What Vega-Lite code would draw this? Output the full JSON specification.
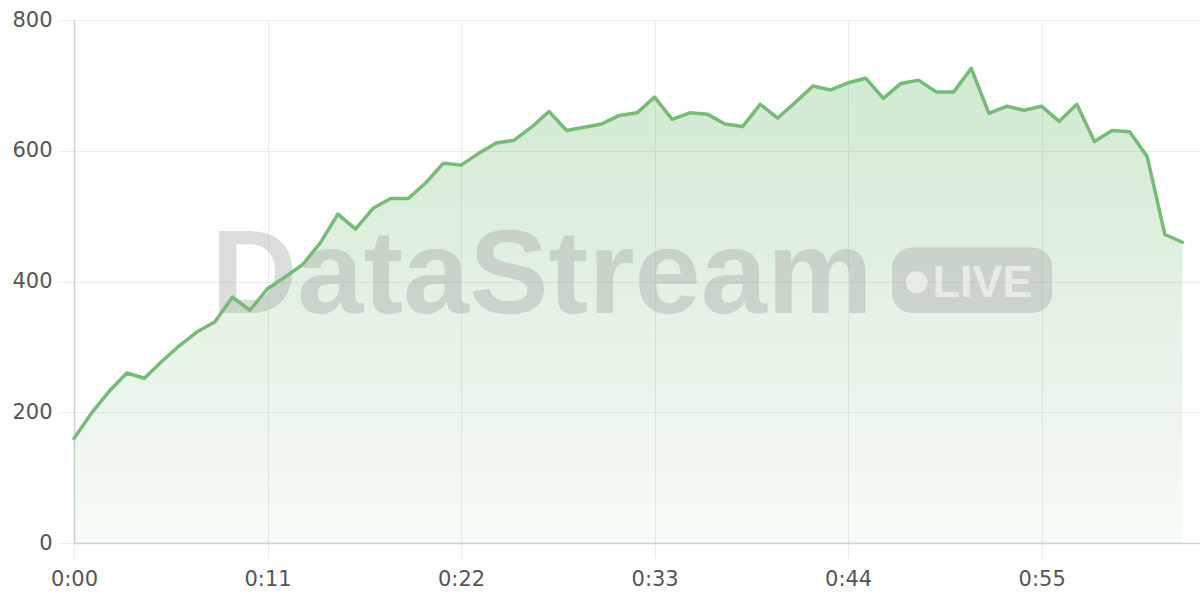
{
  "$schema": "https://vega.github.io/schema/vega-lite/v6.json",
  "width": 1126,
  "height": 523,
  "autosize": {"type": "none"},
  "padding": {"left": 74, "top": 20, "right": 0, "bottom": 57},
  "background": "white",
  "datasets": {
    "series": [
      {"t": 0, "v": 160}, {"t": 1, "v": 199}, {"t": 2, "v": 232}, {"t": 3, "v": 260},
      {"t": 4, "v": 252}, {"t": 5, "v": 278}, {"t": 6, "v": 302}, {"t": 7, "v": 323},
      {"t": 8, "v": 338}, {"t": 9, "v": 376}, {"t": 10, "v": 356}, {"t": 11, "v": 389},
      {"t": 12, "v": 407}, {"t": 13, "v": 426}, {"t": 14, "v": 459}, {"t": 15, "v": 503},
      {"t": 16, "v": 480}, {"t": 17, "v": 512}, {"t": 18, "v": 527}, {"t": 19, "v": 527},
      {"t": 20, "v": 551}, {"t": 21, "v": 581}, {"t": 22, "v": 578}, {"t": 23, "v": 596},
      {"t": 24, "v": 612}, {"t": 25, "v": 616}, {"t": 26, "v": 636}, {"t": 27, "v": 660},
      {"t": 28, "v": 631}, {"t": 29, "v": 636}, {"t": 30, "v": 641}, {"t": 31, "v": 654},
      {"t": 32, "v": 658}, {"t": 33, "v": 682}, {"t": 34, "v": 648}, {"t": 35, "v": 658},
      {"t": 36, "v": 656}, {"t": 37, "v": 641}, {"t": 38, "v": 637}, {"t": 39, "v": 671},
      {"t": 40, "v": 650}, {"t": 41, "v": 674}, {"t": 42, "v": 699}, {"t": 43, "v": 693},
      {"t": 44, "v": 704}, {"t": 45, "v": 711}, {"t": 46, "v": 680}, {"t": 47, "v": 703},
      {"t": 48, "v": 708}, {"t": 49, "v": 690}, {"t": 50, "v": 690}, {"t": 51, "v": 726},
      {"t": 52, "v": 657}, {"t": 53, "v": 668}, {"t": 54, "v": 662}, {"t": 55, "v": 668},
      {"t": 56, "v": 645}, {"t": 57, "v": 671}, {"t": 58, "v": 614}, {"t": 59, "v": 631},
      {"t": 60, "v": 629}, {"t": 61, "v": 591}, {"t": 62, "v": 472}, {"t": 63, "v": 460}
    ],
    "mark": [{"t": 26.6, "v": 352, "label": "DataStream"}],
    "badge": [{"t": 46.5, "t2": 55.6, "v": 452, "v2": 352}],
    "dot": [{"t": 47.9, "v": 399}],
    "live": [{"t": 48.8, "v": 376, "label": "LIVE"}]
  },
  "layer": [
    {
      "data": {"name": "series"},
      "mark": {
        "type": "area",
        "color": {
          "gradient": "linear",
          "x1": 0, "y1": 0, "x2": 0, "y2": 1,
          "stops": [
            {"offset": 0, "color": "rgba(116,188,116,0.33)"},
            {"offset": 1, "color": "rgba(116,188,116,0.06)"}
          ]
        }
      },
      "encoding": {
        "x": {
          "field": "t", "type": "quantitative",
          "scale": {"domain": [0, 64], "nice": false, "zero": false},
          "axis": {
            "title": null,
            "values": [0, 11, 22, 33, 44, 55],
            "labelExpr": "'0:' + (datum.value < 10 ? '0' + datum.value : datum.value)",
            "grid": true
          }
        },
        "y": {
          "field": "v", "type": "quantitative",
          "scale": {"domain": [0, 800], "nice": false},
          "axis": {
            "title": null,
            "values": [0, 200, 400, 600, 800],
            "grid": true
          }
        }
      }
    },
    {
      "data": {"name": "mark"},
      "mark": {
        "type": "text",
        "font": "Liberation Sans",
        "fontWeight": "bold",
        "fontSize": 119,
        "align": "center",
        "baseline": "alphabetic",
        "color": "#9e9e9e",
        "opacity": 0.35
      },
      "encoding": {
        "x": {"field": "t", "type": "quantitative", "title": null},
        "y": {"field": "v", "type": "quantitative", "title": null},
        "text": {"field": "label"}
      }
    },
    {
      "data": {"name": "badge"},
      "mark": {"type": "rect", "color": "#9e9e9e", "opacity": 0.35, "cornerRadius": 20},
      "encoding": {
        "x": {"field": "t", "type": "quantitative", "title": null},
        "x2": {"field": "t2"},
        "y": {"field": "v", "type": "quantitative", "title": null},
        "y2": {"field": "v2"}
      }
    },
    {
      "data": {"name": "dot"},
      "mark": {"type": "point", "shape": "circle", "filled": true, "size": 484, "color": "white", "opacity": 0.55},
      "encoding": {
        "x": {"field": "t", "type": "quantitative", "title": null},
        "y": {"field": "v", "type": "quantitative", "title": null}
      }
    },
    {
      "data": {"name": "live"},
      "mark": {
        "type": "text",
        "font": "Liberation Sans",
        "fontWeight": "bold",
        "fontSize": 45,
        "align": "left",
        "baseline": "alphabetic",
        "color": "white",
        "opacity": 0.55
      },
      "encoding": {
        "x": {"field": "t", "type": "quantitative", "title": null},
        "y": {"field": "v", "type": "quantitative", "title": null},
        "text": {"field": "label"}
      }
    },
    {
      "data": {"name": "series"},
      "mark": {"type": "line", "color": "#74bd74", "strokeWidth": 3.5, "strokeJoin": "round", "strokeCap": "round"},
      "encoding": {
        "x": {"field": "t", "type": "quantitative", "title": null},
        "y": {"field": "v", "type": "quantitative", "title": null}
      }
    }
  ],
  "config": {
    "view": {"stroke": null},
    "axis": {
      "labelFont": "DejaVu Sans",
      "labelFontSize": 21,
      "labelColor": "#555555",
      "gridColor": "#ebebeb",
      "gridWidth": 1,
      "tickColor": "#ebebeb",
      "tickSize": 15,
      "domainColor": "#d0d0d0",
      "domainWidth": 1.5
    },
    "axisX": {"labelPadding": 10, "labelFlush": false},
    "axisY": {"labelPadding": 7}
  }
}
